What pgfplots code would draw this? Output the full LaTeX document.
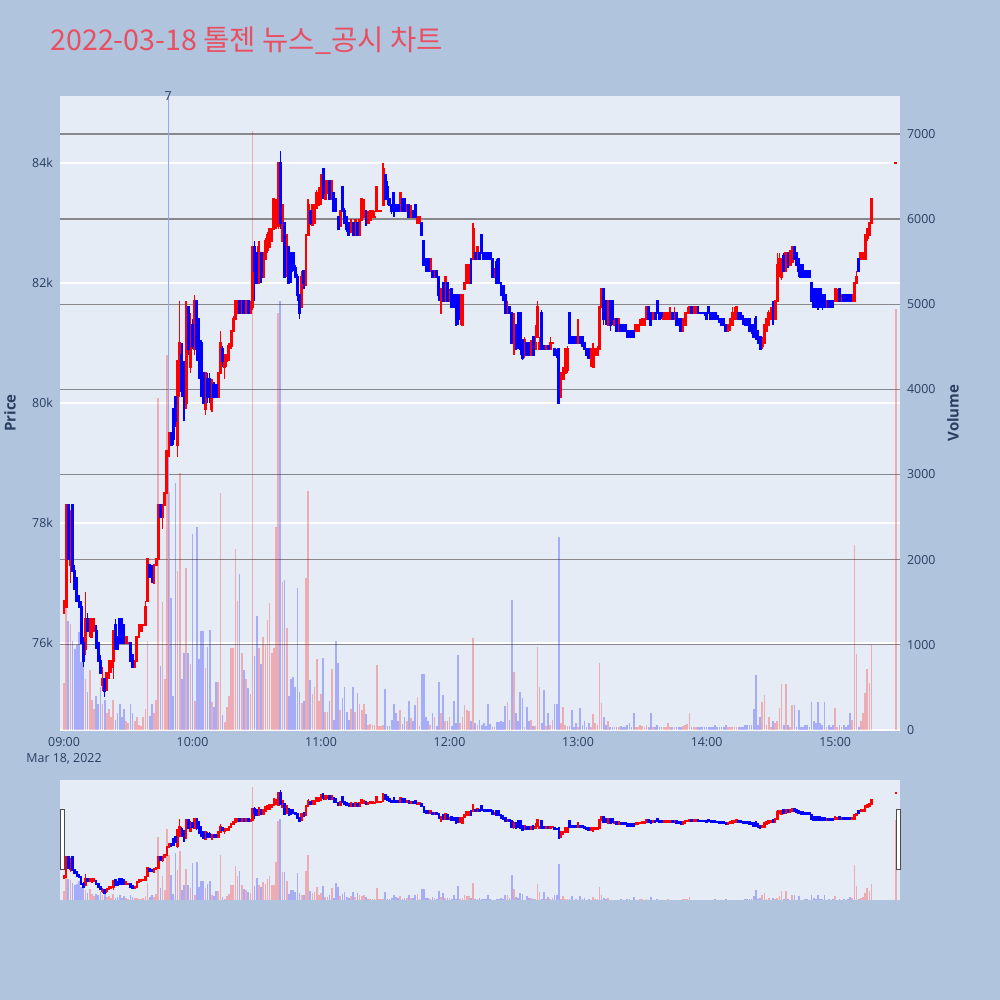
\documentclass[border=0pt]{standalone}
\usepackage{pgfplots}
\pgfplotsset{compat=1.18}
\usepackage{pgfplotstable}
\usepackage{fontspec}
\setmainfont{Open Sans}
\newfontfamily\cjk{Noto Sans CJK KR}
\definecolor{pagebg}{RGB}{176,196,222}
\definecolor{plotbg}{RGB}{229,236,246}
\definecolor{fontc}{RGB}{42,63,95}
\definecolor{titlec}{RGB}{233,79,98}
\definecolor{gridg}{RGB}{135,135,140}
\definecolor{upc}{RGB}{255,0,0}
\definecolor{dnc}{RGB}{0,0,255}
\definecolor{newsc}{RGB}{150,165,245}

\pgfplotstableread{
t d o h l c v
0 1 76.5 76.7 76.5 76.7 550
1 1 76.6 78.3 76.6 78.3 1430
2 0 78.3 78.3 77.4 77.4 1280
3 1 77.3 78.2 77.0 78.2 1250
4 0 78.3 78.3 77.2 77.2 1050
5 0 77.2 77.3 76.9 76.9 950
6 0 77.0 77.1 76.7 76.7 1000
7 0 76.7 76.8 76.6 76.6 1150
8 0 76.6 76.7 76.0 76.0 800
9 0 76.0 76.1 75.6 75.7 900
10 1 75.9 76.85 75.8 76.4 600
11 0 76.4 76.5 76.2 76.2 450
12 1 76.2 76.4 76.1 76.4 700
13 1 76.1 76.4 76.1 76.4 350
14 1 76.2 76.4 76.2 76.4 250
15 0 76.2 76.3 75.9 75.95 400
16 0 76.0 76.0 75.7 75.7 300
17 0 75.7 75.8 75.5 75.5 500
18 1 75.3 75.6 75.2 75.4 300
19 0 75.4 75.4 75.1 75.2 350
20 1 75.3 75.5 75.2 75.5 200
21 1 75.5 75.7 75.4 75.7 250
22 1 75.6 75.7 75.5 75.7 150
23 1 75.7 76.2 75.4 76.2 350
24 0 76.3 76.4 75.9 75.9 120
25 0 76.1 76.1 75.9 75.9 200
26 0 76.4 76.4 76.0 76.0 300
27 0 76.4 76.4 76.0 76.0 150
28 0 76.3 76.3 76.0 76.0 250
29 1 76.0 76.1 76.0 76.1 100
30 1 76.0 76.0 76.0 76.0 80
31 0 76.0 76.0 75.7 75.7 300
32 0 75.8 75.8 75.6 75.6 200
33 1 75.6 75.7 75.6 75.7 100
34 1 75.7 76.1 75.7 76.1 150
35 1 76.1 76.3 76.1 76.3 60
36 1 76.2 76.3 76.2 76.3 50
37 1 76.3 76.3 76.3 76.3 150
38 1 76.3 76.7 76.3 76.6 250
39 1 76.7 77.4 76.7 77.4 1050
40 0 77.3 77.3 77.1 77.1 170
41 0 77.2 77.3 77.0 77.1 300
42 1 77.0 77.3 77.0 77.3 200
43 1 77.3 77.4 77.3 77.4 350
44 1 77.4 78.3 77.4 78.3 3900
45 0 78.3 78.3 78.1 78.1 750
46 1 78.1 78.3 77.9 78.3 1500
47 1 78.3 78.5 78.3 78.5 600
48 1 78.5 79.2 78.5 79.2 4400
49 1 79.2 79.5 79.1 79.5 2800
50 0 79.5 79.5 79.3 79.3 1550
51 0 79.9 79.9 79.3 79.4 400
52 0 80.1 80.1 79.6 79.7 2900
53 1 79.3 80.7 79.1 80.7 1870
54 1 80.2 81.7 80.1 81.0 3020
55 0 80.8 81.0 80.1 80.2 600
56 0 80.6 80.7 79.7 79.8 910
57 1 80.0 81.7 79.9 81.5 1900
58 0 81.6 81.6 80.8 80.9 910
59 1 80.6 81.5 80.5 81.3 770
60 0 81.3 81.4 80.9 80.95 2300
61 1 80.9 81.8 80.8 81.7 340
62 0 81.7 81.7 80.7 80.9 2380
63 0 81.4 81.4 80.4 80.6 830
64 0 81.0 81.05 80.1 80.3 1160
65 0 80.5 80.5 80.0 80.0 1160
66 1 79.9 80.5 79.8 80.5 730
67 0 80.4 80.5 80.0 80.1 970
68 0 80.4 80.5 80.0 80.1 1180
69 1 79.9 80.4 79.85 80.3 330
70 0 80.3 80.35 80.1 80.1 270
71 0 80.3 80.3 80.1 80.1 560
72 1 80.1 80.5 80.1 80.5 560
73 1 80.5 81.2 80.5 81.0 2785
74 0 80.9 80.95 80.6 80.7 180
75 1 80.6 80.8 80.4 80.8 90
76 1 80.7 80.8 80.6 80.8 270
77 1 80.75 81.0 80.7 80.95 400
78 1 80.95 81.2 80.9 81.2 960
79 1 81.2 81.45 81.2 81.4 960
80 1 81.4 81.7 81.4 81.7 2120
81 1 81.5 81.7 81.5 81.7 1515
82 0 81.7 81.7 81.5 81.5 1830
83 1 81.5 81.7 81.5 81.7 910
84 0 81.7 81.7 81.5 81.5 710
85 1 81.5 81.7 81.5 81.7 600
86 0 81.7 81.7 81.5 81.5 490
87 1 81.5 81.7 81.5 81.6 420
88 1 81.6 82.6 81.55 82.6 7035
89 0 82.6 82.7 81.7 82.2 870
90 0 82.5 82.5 82.0 82.0 1340
91 1 82.0 82.7 82.0 82.6 960
92 0 82.5 82.5 82.0 82.1 780
93 1 82.1 82.5 82.1 82.5 1090
94 1 82.4 82.75 82.4 82.7 1000
95 1 82.55 82.85 82.5 82.8 1290
96 1 82.6 82.9 82.6 82.9 1490
97 1 82.7 82.9 82.7 82.9 910
98 1 82.9 83.4 82.9 83.4 960
99 1 83.0 83.4 82.9 83.3 2380
100 1 82.95 84.0 82.9 84.0 4900
101 0 84.0 84.2 82.9 83.0 5035
102 1 82.7 83.3 82.7 83.3 1740
103 0 83.0 83.0 82.1 82.1 1760
104 1 82.2 82.8 82.1 82.8 1200
105 0 82.6 82.6 82.0 82.0 400
106 0 82.5 82.5 82.0 82.2 600
107 0 82.5 82.5 82.2 82.25 620
108 0 82.25 82.3 82.1 82.1 510
109 0 82.1 82.15 81.7 81.8 1670
110 0 81.8 81.8 81.4 81.5 450
111 1 81.6 82.2 81.6 82.1 320
112 0 82.2 82.2 81.9 82.0 340
113 1 82.0 82.8 81.95 82.8 1780
114 1 82.8 83.4 82.8 83.3 2810
115 0 83.2 83.2 82.97 83.0 585
116 1 82.97 83.3 82.97 83.3 420
117 1 83.0 83.3 83.0 83.3 500
118 1 83.25 83.55 83.25 83.5 830
119 1 83.3 83.6 83.3 83.5 340
120 1 83.4 83.8 83.3 83.8 420
121 0 83.9 83.9 83.4 83.5 850
122 1 83.4 83.7 83.4 83.7 210
123 1 83.5 83.7 83.5 83.7 210
124 0 83.7 83.7 83.4 83.4 340
125 1 83.4 83.7 83.4 83.7 720
126 0 83.5 83.5 83.2 83.2 120
127 0 83.4 83.4 83.2 83.2 1050
128 0 83.1 83.1 82.9 82.9 785
129 1 82.95 83.2 82.95 83.2 230
130 0 83.6 83.6 83.2 83.2 380
131 0 83.2 83.25 83.0 83.0 500
132 0 83.1 83.1 82.85 82.9 210
133 0 83.0 83.0 82.8 82.8 120
134 1 82.85 83.05 82.85 83.05 250
135 0 83.0 83.0 82.8 82.8 500
136 1 82.8 83.05 82.8 83.05 210
137 0 83.0 83.0 82.8 82.8 430
138 1 82.8 83.05 82.8 83.05 300
139 1 83.05 83.4 83.05 83.4 230
140 1 83.1 83.4 83.1 83.3 300
141 0 83.2 83.2 82.95 83.0 190
142 1 83.0 83.2 83.0 83.1 55
143 1 83.05 83.2 83.05 83.2 75
144 1 83.1 83.2 83.1 83.2 55
145 1 83.1 83.2 83.1 83.1 55
146 1 83.2 83.6 83.2 83.6 760
147 1 83.2 83.2 83.2 83.2 50
148 1 83.2 83.2 83.2 83.2 50
149 1 83.3 84.0 83.3 83.9 60
150 0 83.8 83.8 83.4 83.4 480
151 0 83.6 83.7 83.3 83.4 50
152 0 83.4 83.4 83.3 83.3 50
153 0 83.3 83.3 83.15 83.2 120
154 0 83.5 83.5 83.1 83.2 300
155 0 83.3 83.3 83.2 83.2 196
156 0 83.3 83.3 83.2 83.2 100
157 1 83.2 83.5 83.2 83.5 231
158 0 83.4 83.4 83.2 83.2 67
159 0 83.4 83.4 83.2 83.2 150
160 1 83.2 83.3 83.2 83.3 100
161 0 83.3 83.3 83.1 83.1 337
162 1 83.1 83.3 83.1 83.2 137
163 0 83.2 83.2 83.1 83.1 110
164 0 83.3 83.3 83.1 83.1 290
165 1 83.0 83.1 83.0 83.1 392
166 1 83.0 83.1 83.0 83.1 50
167 0 83.0 83.0 82.8 82.8 655
168 0 82.7 82.7 82.3 82.3 655
169 0 82.4 82.4 82.2 82.2 150
170 0 82.4 82.4 82.2 82.2 100
171 1 82.2 82.4 82.2 82.4 60
172 0 82.2 82.2 82.1 82.1 196
173 1 82.1 82.2 82.1 82.2 150
174 0 82.2 82.2 82.1 82.1 50
175 0 82.1 82.1 81.7 81.8 569
176 1 81.5 81.9 81.5 81.9 200
177 0 82.0 82.0 81.7 81.7 408
178 1 81.7 82.1 81.7 82.1 110
179 0 82.0 82.0 81.7 81.7 110
180 1 81.7 81.9 81.7 81.8 150
181 0 81.9 81.9 81.6 81.6 50
182 0 81.8 81.8 81.6 81.6 337
183 0 81.8 81.8 81.3 81.3 80
184 0 81.8 81.8 81.3 81.4 878
185 1 81.4 81.8 81.3 81.8 80
186 1 81.3 81.8 81.3 81.8 150
187 1 81.9 82.0 81.9 82.0 298
188 1 82.0 82.3 82.0 82.3 230
189 1 82.0 82.3 82.0 82.3 220
190 0 82.4 82.4 82.0 82.0 100
191 1 82.4 83.0 82.4 82.9 1083
192 0 82.5 82.5 82.4 82.4 80
193 1 82.4 82.6 82.4 82.6 60
194 0 82.5 82.5 82.4 82.4 120
195 0 82.8 82.8 82.5 82.5 60
196 0 82.5 82.5 82.4 82.4 80
197 0 82.5 82.5 82.4 82.4 50
198 0 82.5 82.5 82.4 82.4 301
199 0 82.5 82.5 82.4 82.4 70
200 0 82.4 82.4 82.1 82.1 30
201 1 82.1 82.25 82.1 82.2 30
202 0 82.35 82.4 82.0 82.0 90
203 0 82.4 82.4 82.0 82.0 90
204 0 82.0 82.0 81.8 81.8 110
205 0 81.95 81.95 81.72 81.72 90
206 0 81.8 81.8 81.5 81.5 283
207 1 81.5 81.7 81.5 81.6 330
208 0 81.6 81.6 81.5 81.5 120
209 0 81.5 81.5 81.0 81.0 1525
210 1 81.0 81.5 80.8 81.3 683
211 0 81.3 81.3 80.9 80.9 196
212 0 81.5 81.5 80.9 81.0 100
213 0 81.5 81.5 80.8 80.9 450
214 0 81.05 81.05 80.72 80.75 370
215 1 80.8 81.1 80.75 81.05 30
216 0 81.0 81.0 80.8 80.8 275
217 0 81.0 81.0 80.8 80.8 100
218 1 80.8 81.05 80.8 81.0 120
219 0 81.1 81.1 80.8 80.8 50
220 1 80.9 81.3 80.9 81.0 50
221 1 81.1 81.7 81.1 81.6 976
222 1 80.9 81.1 80.9 81.0 500
223 0 81.5 81.55 80.9 80.9 80
224 0 80.95 80.95 80.9 80.9 474
225 1 80.9 80.95 80.9 80.95 50
226 0 80.95 80.95 80.9 80.9 200
227 1 80.9 81.1 80.9 81.0 60
228 1 81.0 81.0 81.0 81.0 120
229 0 80.9 80.9 80.8 80.8 300
230 0 80.8 80.9 80.75 80.8 301
231 0 80.9 80.9 80.0 80.0 2263
232 1 80.1 80.5 80.1 80.5 80
233 1 80.4 80.6 80.4 80.5 271
234 1 80.5 80.9 80.5 80.9 60
235 1 80.55 80.95 80.5 80.9 50
236 0 81.5 81.5 81.0 81.0 50
237 0 81.1 81.1 81.0 81.0 236
238 0 81.1 81.1 81.0 81.0 30
239 0 81.1 81.1 81.0 81.0 80
240 1 81.0 81.4 81.0 81.1 30
241 0 81.1 81.1 81.0 81.0 255
242 0 81.1 81.1 80.95 80.95 60
243 0 81.0 81.0 80.9 80.9 100
244 0 80.9 80.9 80.8 80.8 30
245 0 80.9 80.9 80.75 80.75 80
246 1 80.75 80.9 80.6 80.9 30
247 1 80.6 81.0 80.6 80.9 192
248 1 80.8 80.9 80.8 80.9 80
249 1 80.8 80.95 80.8 80.9 60
250 1 80.9 81.6 80.9 81.6 784
251 1 81.6 81.9 81.6 81.9 322
252 0 81.9 81.9 81.3 81.4 150
253 0 81.7 81.7 81.3 81.4 60
254 1 81.3 81.7 81.3 81.7 100
255 0 81.7 81.7 81.2 81.3 30
256 0 81.7 81.7 81.3 81.4 30
257 1 81.3 81.4 81.3 81.4 30
258 0 81.4 81.4 81.2 81.2 30
259 1 81.2 81.4 81.2 81.4 30
260 0 81.3 81.3 81.2 81.2 50
261 0 81.3 81.3 81.2 81.2 30
262 0 81.3 81.3 81.2 81.2 30
263 0 81.2 81.2 81.1 81.1 60
264 0 81.2 81.2 81.1 81.1 80
265 0 81.2 81.2 81.1 81.1 30
266 0 81.2 81.2 81.1 81.1 196
267 1 81.2 81.3 81.2 81.3 30
268 1 81.2 81.3 81.2 81.3 30
269 1 81.3 81.4 81.3 81.3 60
270 1 81.3 81.4 81.3 81.4 50
271 1 81.3 81.4 81.3 81.4 30
272 1 81.4 81.6 81.4 81.6 60
273 0 81.6 81.6 81.4 81.4 30
274 0 81.5 81.5 81.3 81.3 200
275 1 81.4 81.5 81.4 81.5 30
276 0 81.5 81.5 81.4 81.4 30
277 0 81.7 81.7 81.5 81.5 60
278 0 81.5 81.5 81.4 81.4 30
279 0 81.5 81.5 81.4 81.45 30
280 1 81.4 81.5 81.4 81.5 30
281 1 81.4 81.5 81.4 81.5 30
282 1 81.4 81.5 81.4 81.5 80
283 1 81.4 81.6 81.4 81.5 30
284 0 81.5 81.5 81.4 81.4 30
285 1 81.4 81.6 81.4 81.5 30
286 0 81.5 81.5 81.3 81.3 30
287 0 81.4 81.4 81.3 81.3 30
288 0 81.4 81.4 81.2 81.2 30
289 1 81.2 81.4 81.2 81.4 50
290 1 81.3 81.5 81.3 81.5 60
291 1 81.5 81.6 81.5 81.5 70
292 1 81.5 81.6 81.5 81.6 196
293 0 81.6 81.6 81.5 81.5 30
294 1 81.5 81.6 81.5 81.6 30
295 1 81.5 81.6 81.5 81.6 30
296 0 81.6 81.6 81.5 81.5 30
297 0 81.5 81.5 81.5 81.5 30
298 0 81.5 81.5 81.5 81.5 30
299 0 81.5 81.5 81.45 81.5 30
300 0 81.5 81.5 81.4 81.4 30
301 0 81.6 81.6 81.5 81.5 30
302 0 81.5 81.5 81.4 81.4 30
303 0 81.5 81.5 81.4 81.4 30
304 0 81.5 81.5 81.4 81.4 60
305 0 81.45 81.45 81.4 81.4 30
306 0 81.4 81.4 81.35 81.35 30
307 0 81.4 81.4 81.3 81.3 30
308 0 81.4 81.4 81.3 81.3 30
309 0 81.3 81.3 81.2 81.2 60
310 1 81.2 81.3 81.2 81.3 30
311 1 81.3 81.4 81.2 81.4 30
312 1 81.3 81.6 81.3 81.5 30
313 1 81.4 81.6 81.4 81.5 30
314 1 81.4 81.6 81.4 81.6 30
315 0 81.5 81.5 81.4 81.4 30
316 0 81.5 81.5 81.4 81.4 30
317 0 81.45 81.45 81.3 81.35 30
318 0 81.4 81.4 81.3 81.3 60
319 0 81.4 81.4 81.3 81.3 60
320 0 81.4 81.4 81.2 81.2 60
321 0 81.3 81.3 81.15 81.2 60
322 0 81.3 81.3 81.1 81.1 251
323 0 81.4 81.45 81.05 81.1 647
324 0 81.2 81.2 81.0 81.0 60
325 0 81.1 81.1 80.9 80.9 150
326 1 80.95 81.1 80.9 81.05 330
327 1 81.0 81.3 81.0 81.3 412
328 1 81.2 81.4 81.2 81.4 60
329 1 81.3 81.55 81.3 81.5 150
330 1 81.4 81.6 81.4 81.5 30
331 0 81.6 81.7 81.3 81.4 100
332 1 81.4 81.7 81.4 81.7 80
333 1 81.7 82.5 81.7 82.3 100
334 1 82.2 82.5 82.1 82.4 255
335 1 82.1 82.4 82.05 82.4 545
336 0 82.45 82.5 82.2 82.2 60
337 1 82.2 82.5 82.2 82.5 545
338 0 82.5 82.5 82.25 82.3 60
339 1 82.3 82.55 82.3 82.5 30
340 1 82.35 82.6 82.35 82.6 290
341 0 82.6 82.6 82.4 82.4 298
342 0 82.5 82.5 82.3 82.3 30
343 0 82.4 82.4 82.1 82.2 231
344 0 82.3 82.3 82.1 82.1 30
345 0 82.3 82.3 82.1 82.1 30
346 0 82.2 82.2 82.1 82.1 60
347 0 82.2 82.2 82.1 82.1 60
348 0 82.2 82.2 82.1 82.1 30
349 0 82.0 82.0 81.7 81.7 330
350 0 81.9 81.9 81.6 81.6 100
351 0 81.9 81.9 81.6 81.6 80
352 0 81.9 81.9 81.55 81.6 330
353 0 81.9 81.9 81.6 81.6 80
354 0 81.8 81.8 81.55 81.6 60
355 0 81.8 81.8 81.6 81.6 330
356 1 81.6 81.7 81.6 81.7 30
357 0 81.7 81.7 81.6 81.6 60
358 0 81.7 81.7 81.6 81.6 30
359 0 81.7 81.7 81.6 81.6 60
360 1 81.7 81.9 81.7 81.9 255
361 1 81.7 81.9 81.7 81.8 30
362 0 81.9 81.9 81.7 81.7 60
363 1 81.7 81.8 81.7 81.8 30
364 0 81.8 81.8 81.7 81.7 60
365 0 81.8 81.8 81.7 81.7 30
366 0 81.8 81.8 81.7 81.7 60
367 0 81.8 81.8 81.7 81.7 204
368 1 81.7 81.8 81.7 81.8 120
369 1 81.7 82.0 81.7 82.0 2176
370 1 82.0 82.2 82.0 82.1 890
371 0 82.4 82.4 82.2 82.2 40
372 1 82.4 82.5 82.4 82.5 100
373 1 82.4 82.5 82.4 82.5 196
374 1 82.4 82.8 82.4 82.8 439
375 1 82.75 82.9 82.7 82.9 714
376 1 82.8 83.0 82.8 83.0 557
377 1 83.0 83.4 83.0 83.4 1000
388.4 1 84.0 84.0 84.0 84.0 4950
}\data

\tikzset{tickfont/.style={font=\fontsize{6.2pt}{8pt}\selectfont, text=fontc}}
\pgfplotsset{
  mainframe/.style={scale only axis, width=420pt, height=317pt, at={(30pt,135pt)}, anchor=south west,
    xmin=-1.87, xmax=390.3, axis line style={draw=none}, tick style={draw=none}, major tick length=0pt,
    clip mode=individual},
  sliderframe/.style={scale only axis, width=420pt, height=60pt, at={(30pt,50pt)}, anchor=south west,
    xmin=-1.87, xmax=390.3, axis line style={draw=none}, tick style={draw=none}, major tick length=0pt,
    xtick=\empty, ytick=\empty},
}

% #1 body pad, #2 wick width, #3 body width
\newcommand\candles[3]{%
  \addplot[draw=none, mark=none, forget plot, restrict expr to domain={\thisrow{d}}{0.5:1.5},
    error bars/.cd, y dir=both, y explicit, error mark=none, error bar style={draw=upc, line width=#2}]
    table[x=t, y expr={(\thisrow{h}+\thisrow{l})/2}, y error expr={(\thisrow{h}-\thisrow{l})/2}] {\data};
  \addplot[draw=none, mark=none, forget plot, restrict expr to domain={\thisrow{d}}{-0.5:0.5},
    error bars/.cd, y dir=both, y explicit, error mark=none, error bar style={draw=dnc, line width=#2}]
    table[x=t, y expr={(\thisrow{h}+\thisrow{l})/2}, y error expr={(\thisrow{h}-\thisrow{l})/2}] {\data};
  \addplot[draw=none, mark=none, forget plot, restrict expr to domain={\thisrow{d}}{0.5:1.5},
    error bars/.cd, y dir=both, y explicit, error mark=none, error bar style={draw=upc, line width=#3}]
    table[x=t, y expr={(\thisrow{o}+\thisrow{c})/2}, y error expr={abs(\thisrow{c}-\thisrow{o})/2+#1}] {\data};
  \addplot[draw=none, mark=none, forget plot, restrict expr to domain={\thisrow{d}}{-0.5:0.5},
    error bars/.cd, y dir=both, y explicit, error mark=none, error bar style={draw=dnc, line width=#3}]
    table[x=t, y expr={(\thisrow{o}+\thisrow{c})/2}, y error expr={abs(\thisrow{c}-\thisrow{o})/2+#1}] {\data};
}
\newcommand\volumes{%
  \addplot[ycomb, draw=upc, draw opacity=0.27, line width=0.85pt, mark=none, forget plot,
    restrict expr to domain={\thisrow{d}}{0.5:1.5}] table[x=t, y=v] {\data};
  \addplot[ycomb, draw=dnc, draw opacity=0.27, line width=0.85pt, mark=none, forget plot,
    restrict expr to domain={\thisrow{d}}{-0.5:0.5}] table[x=t, y=v] {\data};
}

\begin{document}
\begin{tikzpicture}
\fill[pagebg] (0pt,0pt) rectangle (500pt,500pt);
\useasboundingbox (0pt,0pt) rectangle (500pt,500pt);
\node[anchor=base west, inner sep=0pt, text=titlec, font=\cjk\fontsize{14.3pt}{16pt}\selectfont]
  at (25pt,474.5pt) {2022-03-18 톨젠 뉴스\_공시 차트};

% price grid + background
\begin{axis}[mainframe, ymin=74.55, ymax=85.117, axis background/.style={fill=plotbg},
  ytick={76,78,80,82,84}, yticklabels={}, xtick=\empty, ymajorgrids,
  grid style={white, line width=0.6pt}]
\addplot[draw=none, forget plot] coordinates {(0,80)};
\end{axis}

% volume axis
\begin{axis}[mainframe, ymin=0, ymax=7446, ytick={1000,2000,...,7000},
  yticklabels={1000,2000,3000,4000,5000,6000,7000},
  extra y ticks={0}, extra y tick labels={0}, extra y tick style={grid style={white, line width=1pt}},
  yticklabel pos=right, xtick=\empty, ymajorgrids, grid style={gridg, line width=0.65pt},
  yticklabel style={tickfont},
  ylabel={Volume}, ylabel style={at={(axis description cs:1.063,0.5)}, anchor=center,
    font=\bfseries\fontsize{7.5pt}{9pt}\selectfont, text=fontc}]
\volumes
\end{axis}

% price axis with candles
\begin{axis}[mainframe, ymin=74.55, ymax=85.117, ytick={76,78,80,82,84},
  yticklabels={76k,78k,80k,82k,84k},
  xtick={0,60,120,180,240,300,360},
  xticklabels={{09:00\\Mar 18, 2022},10:00,11:00,12:00,13:00,14:00,15:00},
  xticklabel style={tickfont, align=center},
  yticklabel style={tickfont},
  ylabel={Price}, ylabel style={at={(axis description cs:-0.0595,0.5)}, anchor=center,
    font=\bfseries\fontsize{7.5pt}{9pt}\selectfont, text=fontc}]
\addplot[newsc, line width=0.5pt, forget plot] coordinates {(48.6,74.55) (48.6,85.117)};
\candles{0.017}{0.7pt}{1.45pt}
\node[tickfont, inner sep=0pt] at (axis cs:48.6,85.117) {7};
\end{axis}

% range slider
\begin{axis}[sliderframe, ymin=0, ymax=7446, axis background/.style={fill=plotbg}]
\volumes
\end{axis}
\begin{axis}[sliderframe, ymin=74.55, ymax=85.117]
\candles{0.088}{0.6pt}{1.3pt}
\end{axis}
\draw[fill=white, draw=black!70, line width=0.5pt] (30pt,65pt) rectangle (32pt,95pt);
\draw[fill=white, draw=black!70, line width=0.5pt] (448pt,65pt) rectangle (450pt,95pt);
\end{tikzpicture}
\end{document}
